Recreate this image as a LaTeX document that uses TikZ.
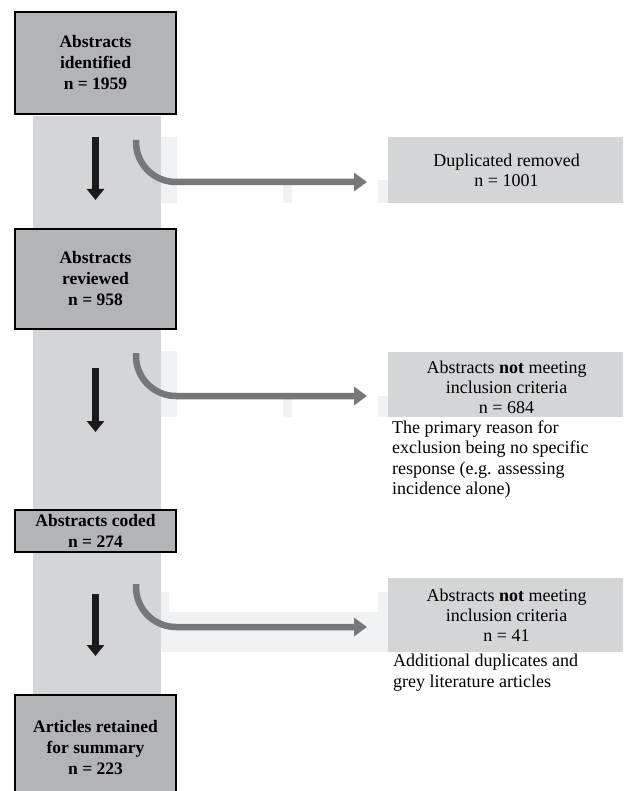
\documentclass[tikz,border=0pt]{standalone}
\usepackage{fontspec}
\setmainfont{Liberation Serif}
\usetikzlibrary{arrows.meta}
\definecolor{darkbox}{HTML}{B3B4B8}
\definecolor{lightcol}{HTML}{D4D5D7}
\definecolor{faint}{HTML}{F0F1F3}
\definecolor{curvegray}{HTML}{76777B}
\definecolor{arrowblack}{HTML}{1A1A1A}
\begin{document}
\begin{tikzpicture}[x=1pt,y=-1pt,
  stagebox/.style={draw=black, line width=2pt, fill=darkbox, minimum width=161pt,
    inner sep=0pt, outer sep=0pt, align=center,
    font=\fontsize{17.5}{21}\selectfont\bfseries},
  outbox/.style={fill=lightcol, minimum width=237pt, inner sep=0pt, outer sep=0pt,
    align=center, font=\fontsize{18}{20}\selectfont},
  note/.style={anchor=north west, inner sep=0pt, align=left,
    font=\fontsize{18}{20.5}\selectfont},
  downarrow/.style={draw=arrowblack, line width=7pt,
    -{Triangle[width=17pt,length=11pt]}},
  sidearrow/.style={draw=curvegray, line width=6.5pt, rounded corners=40pt,
    -{Triangle[width=18pt,length=13pt]}}
]
\useasboundingbox (0,0) rectangle (623,791);
\clip (0,0) rectangle (623,791);
\fill[white] (0,0) rectangle (623,791);

% central light column
\fill[lightcol] (33,116) rectangle (161,695);

% faint background pieces
\fill[faint] (161,137) rectangle (177,203);
\fill[faint] (283,183) rectangle (292,203);
\fill[faint] (378,180) rectangle (388,203);
\fill[faint] (161,351) rectangle (177,417);
\fill[faint] (283,397) rectangle (292,417);
\fill[faint] (378,396) rectangle (388,417);
\fill[faint] (161,592) rectangle (388,652);
\fill[white] (169,592) rectangle (378,612);

% stage boxes
\node[stagebox, minimum height=102pt] (b1) at (95.5,63) {Abstracts\\identified\\n = 1959};
\node[stagebox, minimum height=100pt] (b2) at (95.5,279) {Abstracts\\reviewed\\n = 958};
\node[stagebox, minimum height=42pt] (b3) at (95.5,531) {Abstracts coded\\n = 274};
\node[stagebox, minimum height=106pt] (b4) at (95.5,748) {Articles retained\\for summary\\n = 223};

% exclusion boxes
\node[outbox, minimum height=66pt] (x1) at (506.5,170) {Duplicated removed\\n = 1001};
\node[outbox, minimum height=65pt] (x2) at (506.5,384.5) {\rule{0pt}{19pt}Abstracts \textbf{not} meeting\\inclusion criteria\\n = 684};
\node[outbox, minimum height=74pt] (x3) at (506.5,615) {Abstracts \textbf{not} meeting\\inclusion criteria\\n = 41};

% notes
\node[note] (n2) at (392,420.5) {The primary reason for\\exclusion being no specific\\response (e.g. assessing\\incidence alone)};
\node[note] (n3) at (393,654) {Additional duplicates and\\grey literature articles};

% down arrows
\draw[downarrow, shorten <=23pt, shorten >=29pt] (b1.south) -- (b2.north);
\draw[downarrow, shorten <=39pt, shorten >=78pt] (b2.south) -- (b3.north);
\draw[downarrow, shorten <=42pt, shorten >=39pt] (b3.south) -- (b4.north);

% side arrows
\coordinate (s1) at (136,140);
\coordinate (e1) at (367,182);
\coordinate (s2) at (136,353);
\coordinate (e2) at (367,396);
\coordinate (s3) at (136,584);
\coordinate (e3) at (367,627);
\draw[sidearrow] (s1) |- (e1);
\draw[sidearrow] (s2) |- (e2);
\draw[sidearrow] (s3) |- (e3);
\end{tikzpicture}
\end{document}
